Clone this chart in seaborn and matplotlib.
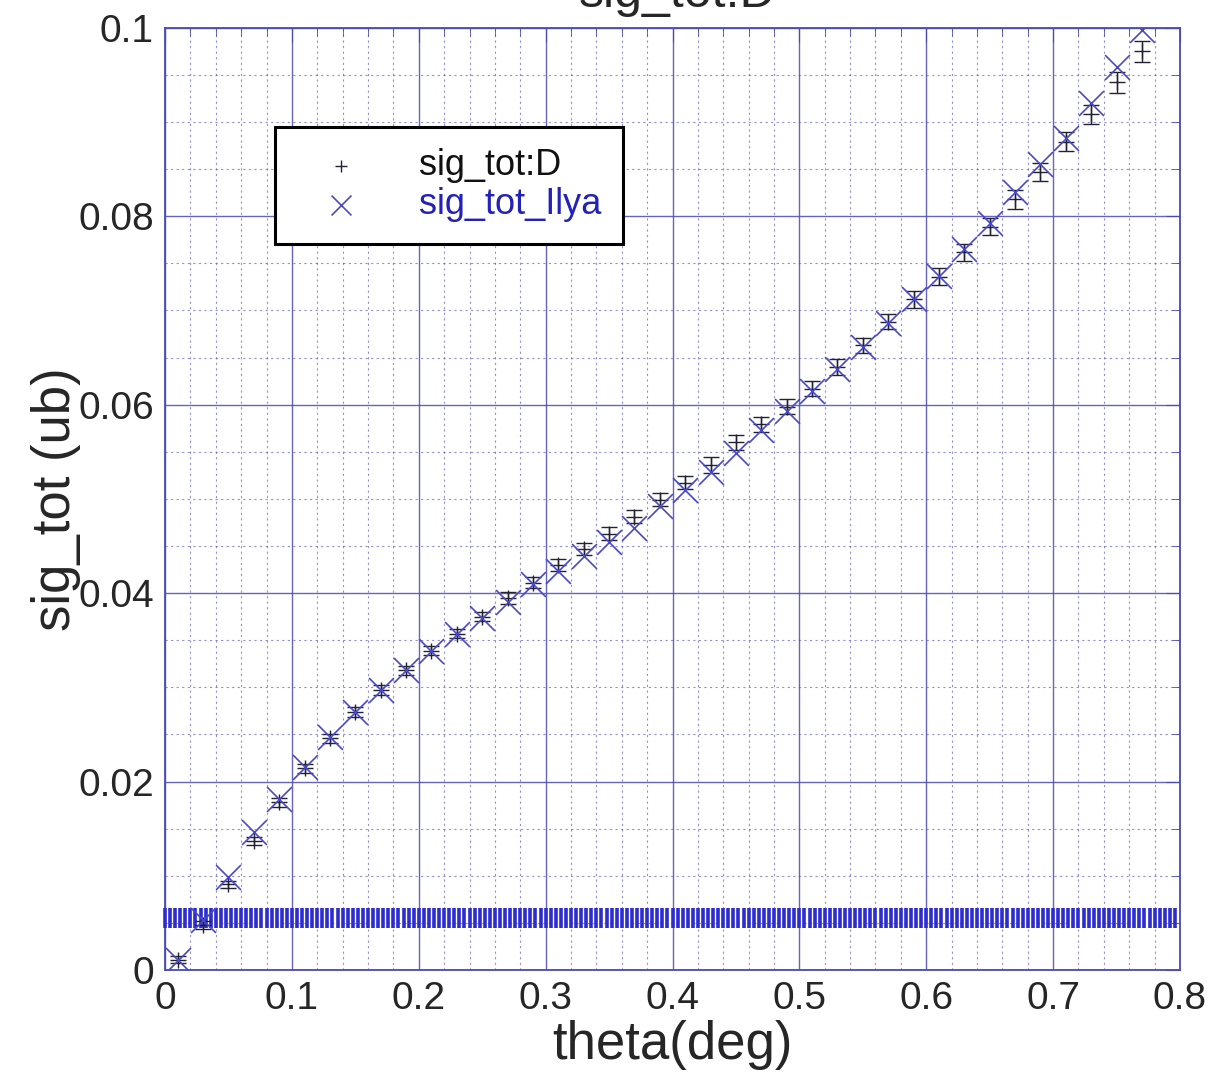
"""
sig_tot vs theta: so sánh sig_tot:D (có error bar) và sig_tot_Ilya.
"""

import numpy as np
import pandas as pd
import matplotlib
matplotlib.use("Agg")
import matplotlib.pyplot as plt
import seaborn as sns
from matplotlib.ticker import MultipleLocator, FuncFormatter

# ─── Data ────────────────────────────────────────────────────────────────────
theta = [0.01, 0.03, 0.05, 0.07, 0.09, 0.11, 0.13, 0.15, 0.17, 0.19,
         0.21, 0.23, 0.25, 0.27, 0.29, 0.31, 0.33, 0.35, 0.37, 0.39,
         0.41, 0.43, 0.45, 0.47, 0.49, 0.51, 0.53, 0.55, 0.57, 0.59,
         0.61, 0.63, 0.65, 0.67, 0.69, 0.71, 0.73, 0.75, 0.77]

sig_tot_d = [0.0011, 0.0048, 0.0091, 0.0137, 0.0178, 0.0214, 0.0246, 0.0274, 0.0297, 0.0318,
             0.0339, 0.0357, 0.0375, 0.0395, 0.0411, 0.0430, 0.0447, 0.0463, 0.0481, 0.0499,
             0.0517, 0.0536, 0.0560, 0.0579, 0.0598, 0.0617, 0.0640, 0.0663, 0.0688, 0.0712,
             0.0736, 0.0762, 0.0789, 0.0818, 0.0847, 0.0879, 0.0908, 0.0942, 0.0975]

sig_tot_d_err = [0.0004, 0.0004, 0.0004, 0.0004, 0.0005, 0.0005, 0.0005, 0.0005, 0.0005, 0.0005,
                 0.0005, 0.0005, 0.0005, 0.0006, 0.0006, 0.0006, 0.0006, 0.0007, 0.0007, 0.0007,
                 0.0007, 0.0008, 0.0008, 0.0008, 0.0008, 0.0008, 0.0008, 0.0008, 0.0008, 0.0009,
                 0.0009, 0.0009, 0.0009, 0.0010, 0.0010, 0.0010, 0.0010, 0.0011, 0.0011]

sig_tot_ilya = [0.0011, 0.0053, 0.0099, 0.0146, 0.0181, 0.0216, 0.0247, 0.0274, 0.0297, 0.0318,
                0.0339, 0.0357, 0.0374, 0.0391, 0.0410, 0.0424, 0.0439, 0.0454, 0.0469, 0.0493,
                0.0509, 0.0529, 0.0549, 0.0573, 0.0593, 0.0615, 0.0638, 0.0661, 0.0687, 0.0712,
                0.0737, 0.0765, 0.0793, 0.0826, 0.0855, 0.0883, 0.0920, 0.0958, 0.0998]

# dải error bar dày đặc ở sig ~ 0.0055
band_theta = np.arange(0.0, 0.8, 0.004)
band_val   = 0.0055
band_err   = 0.00105

x_ticks = [0, 0.1, 0.2, 0.3, 0.4, 0.5, 0.6, 0.7, 0.8]
y_ticks = [0, 0.02, 0.04, 0.06, 0.08, 0.1]

# ─── Style ───────────────────────────────────────────────────────────────────
GRID_BLUE = "#4a4ab4"
MARK_BLUE = "#4848c8"
BAND_BLUE = "#2c2cd0"

sns.set_style("white")
plt.rcParams["font.family"] = ["Liberation Sans", "DejaVu Sans"]

df_d    = pd.DataFrame({"theta": theta, "sig": sig_tot_d, "err": sig_tot_d_err})
df_ilya = pd.DataFrame({"theta": theta, "sig": sig_tot_ilya})

fig = plt.figure(figsize=(12.09, 10.72), dpi=100)
ax  = fig.add_axes([0.1365, 0.0951, 0.8395, 0.879])

# ── Dải error bar ────────────────────────────────────────────────────────────
ax.errorbar(band_theta, np.full(len(band_theta), band_val), yerr=band_err,
            fmt="none", ecolor=BAND_BLUE, elinewidth=2.6, capsize=0, zorder=3,
            clip_on=False)

# ── sig_tot:D ────────────────────────────────────────────────────────────────
ax.errorbar(df_d["theta"], df_d["sig"], yerr=df_d["err"], fmt="none",
            ecolor="#222233", elinewidth=1.0, capsize=6, capthick=1.0, zorder=4)
sns.scatterplot(data=df_d, x="theta", y="sig", marker="+", s=120,
                color="#222233", linewidth=1.0, ax=ax, zorder=5,
                label="sig_tot:D")

# ── sig_tot_Ilya ─────────────────────────────────────────────────────────────
sns.scatterplot(data=df_ilya, x="theta", y="sig", marker="x", s=320,
                color=MARK_BLUE, linewidth=1.2, ax=ax, zorder=6,
                label="sig_tot_Ilya")

# ── Axes ─────────────────────────────────────────────────────────────────────
ax.set_xlim(0, 0.8)
ax.set_ylim(0, 0.1)
ax.set_xticks(x_ticks)
ax.set_yticks(y_ticks)
ax.xaxis.set_minor_locator(MultipleLocator(0.02))
ax.yaxis.set_minor_locator(MultipleLocator(0.005))
fmt = FuncFormatter(lambda v, p: f"{v:g}")
ax.xaxis.set_major_formatter(fmt)
ax.yaxis.set_major_formatter(fmt)

ax.grid(which="major", color=GRID_BLUE, linewidth=1.0, alpha=0.85)
ax.grid(which="minor", color=GRID_BLUE, linewidth=0.8, linestyle=(0, (2, 3)), alpha=0.6)
ax.set_axisbelow(True)

ax.tick_params(which="both", direction="in", top=True, right=True, color=GRID_BLUE)
ax.tick_params(which="major", length=10, labelsize=28, pad=8)
ax.tick_params(which="minor", length=6)
for sp in ax.spines.values():
    sp.set_color(GRID_BLUE)
    sp.set_linewidth(1.3)

ax.set_xlabel("theta(deg)", fontsize=38, labelpad=2)
ax.set_ylabel("sig_tot (ub)", fontsize=38, labelpad=-2)

# ── Legend ───────────────────────────────────────────────────────────────────
leg = ax.legend(loc="upper left", bbox_to_anchor=(0.108, 0.895), borderaxespad=0,
                fontsize=26, frameon=True, fancybox=False, edgecolor="black",
                handletextpad=0.9, borderpad=0.6, labelspacing=0.1,
                handlelength=2.5, markerscale=0.8)
leg.get_frame().set_linewidth(2.2)
leg.get_frame().set_alpha(1.0)
leg.get_texts()[0].set_color("#111111")
leg.get_texts()[1].set_color("#2222bb")

# ── Tiêu đề (bị cắt ở mép trên) ──────────────────────────────────────────────
fig.text(0.56, 1.006, "sig_tot:D", ha="center", va="center", fontsize=36)

fig.savefig("out.png", dpi=100, facecolor="white")
